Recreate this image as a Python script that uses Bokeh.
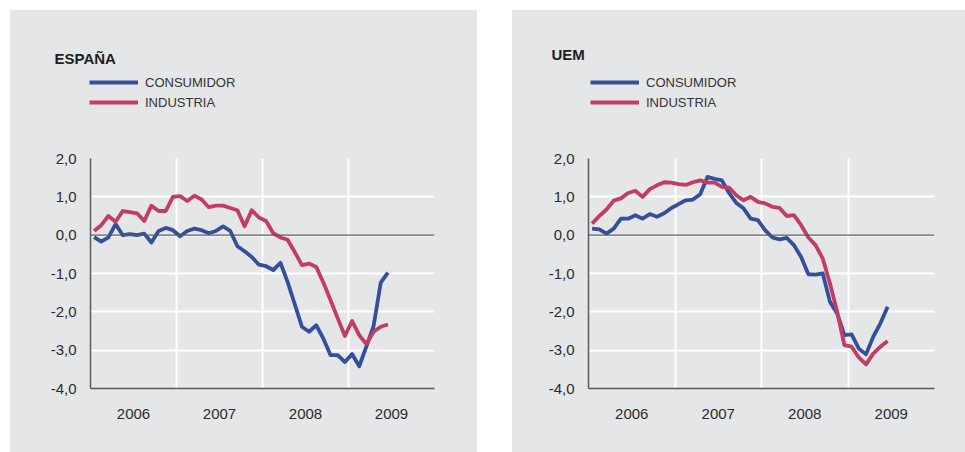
from bokeh.plotting import figure
from bokeh.models import (Range1d, FixedTicker, Span, Label, Legend, LegendItem,
                          Spacer, ColumnDataSource, CustomJSTickFormatter)
from bokeh.layouts import row, column
from bokeh.embed import file_html
from bokeh.resources import INLINE

# ---------------- data ----------------
years = [2006, 2007, 2008, 2009]
year_labels = ["2006", "2007", "2008", "2009"]
year_bounds = [2007, 2008, 2009, 2010]
y_ticks = [-4, -3, -2, -1, 0, 1, 2]
y_tick_labels = ["-4,0", "-3,0", "-2,0", "-1,0", "0,0", "1,0", "2,0"]
series_names = ["CONSUMIDOR", "INDUSTRIA"]
panel_titles = ["ESPAÑA", "UEM"]

# monthly, Jan 2006 - Jun 2009
esp_consumidor = [-0.05, -0.17, -0.06, 0.29, 0.0, 0.03, 0.0, 0.04, -0.19, 0.11,
                  0.19, 0.13, -0.03, 0.11, 0.17, 0.13, 0.05, 0.11, 0.23, 0.11,
                  -0.29, -0.42, -0.57, -0.77, -0.81, -0.91, -0.72, -1.22, -1.80, -2.39,
                  -2.52, -2.35, -2.70, -3.13, -3.13, -3.31, -3.10, -3.42, -2.90, -2.37,
                  -1.24, -0.98]
esp_industria = [0.11, 0.26, 0.50, 0.35, 0.63, 0.60, 0.57, 0.37, 0.77, 0.63,
                 0.63, 1.00, 1.02, 0.89, 1.03, 0.93, 0.73, 0.77, 0.77, 0.71,
                 0.65, 0.23, 0.65, 0.46, 0.37, 0.05, -0.06, -0.12, -0.44, -0.78,
                 -0.74, -0.83, -1.24, -1.70, -2.17, -2.63, -2.24, -2.61, -2.84, -2.52,
                 -2.39, -2.33]
uem_consumidor = [0.17, 0.15, 0.04, 0.17, 0.43, 0.43, 0.52, 0.43, 0.55, 0.48,
                  0.57, 0.71, 0.81, 0.91, 0.93, 1.07, 1.52, 1.47, 1.43, 1.10,
                  0.84, 0.70, 0.43, 0.39, 0.13, -0.06, -0.11, -0.07, -0.26, -0.57,
                  -1.02, -1.03, -1.00, -1.74, -2.04, -2.61, -2.59, -2.96, -3.11, -2.65,
                  -2.30, -1.87]
uem_industria = [0.30, 0.50, 0.67, 0.90, 0.96, 1.10, 1.16, 1.00, 1.20, 1.30,
                 1.38, 1.37, 1.33, 1.31, 1.38, 1.43, 1.37, 1.37, 1.26, 1.24,
                 1.04, 0.91, 1.00, 0.87, 0.83, 0.74, 0.71, 0.50, 0.52, 0.26,
                 -0.06, -0.26, -0.61, -1.26, -2.00, -2.87, -2.91, -3.19, -3.37, -3.09,
                 -2.91, -2.76]

# ---------------- style ----------------
BG = "#e5e6e8"
BLUE = "#35509b"
RED = "#c33c64"
AXIS = "#5a5a5a"
TXT = "#2b2b2b"
FONT = "Liberation Sans"
HEAD_H = 130
CHART_H = 312
LW = 3.8
NAN = float("nan")


def make_header(title, width, title_xy, legend_xy):
    # header area: its frame covers the whole header, ranges are in pixels
    h = figure(width=width, height=HEAD_H, title=None,
               x_range=Range1d(0, width), y_range=Range1d(0, HEAD_H),
               x_axis_type=None, y_axis_type=None,
               output_backend="svg", toolbar_location=None,
               min_border=0, min_border_left=0, min_border_right=0,
               min_border_top=0, min_border_bottom=0,
               background_fill_color=BG, border_fill_color=BG,
               outline_line_color=None)
    h.frame_align = False
    h.grid.visible = False
    h.add_layout(Label(x=title_xy[0], y=title_xy[1], text=title, text_font=FONT,
                       text_font_size="15px", text_font_style="bold",
                       text_color="#1e1e1e", text_baseline="alphabetic"))
    # legend keys: renderers with no visible points, carrying the line styles
    k1 = h.line(x=[NAN], y=[NAN], line_color=BLUE, line_width=LW)
    k2 = h.line(x=[NAN], y=[NAN], line_color=RED, line_width=LW)
    leg = Legend(items=[LegendItem(label=series_names[0], renderers=[k1]),
                        LegendItem(label=series_names[1], renderers=[k2])],
                 location=legend_xy, orientation="vertical",
                 glyph_width=49, glyph_height=20, label_height=20,
                 label_standoff=7, spacing=0, padding=0, margin=0,
                 border_line_color=None, background_fill_alpha=0,
                 label_text_font=FONT, label_text_font_size="13px",
                 label_text_color="#333333")
    h.add_layout(leg)
    return h


def make_chart(cons, ind, width, b_left, b_right):
    x = [years[0] + (i + 0.5) / 12 for i in range(len(cons))]
    src = ColumnDataSource(dict(x=x, cons=cons, ind=ind))
    p = figure(width=width, height=CHART_H, title=None,
               x_range=Range1d(years[0], year_bounds[-1]),
               y_range=Range1d(y_ticks[0], y_ticks[-1]),
               output_backend="svg", toolbar_location=None,
               min_border_left=b_left, min_border_right=b_right,
               min_border_top=18, min_border_bottom=64,
               background_fill_color=BG, border_fill_color=BG,
               outline_line_color=None)
    p.frame_align = False

    p.xgrid.ticker = FixedTicker(ticks=year_bounds)
    p.ygrid.ticker = FixedTicker(ticks=y_ticks[1:])
    for g in (p.xgrid[0], p.ygrid[0]):
        g.grid_line_color = "white"
        g.grid_line_width = 2

    p.xaxis.ticker = FixedTicker(ticks=[y + 0.5 for y in years])
    p.xaxis.major_label_overrides = {y + 0.5: lab for y, lab in zip(years, year_labels)}
    p.yaxis.ticker = FixedTicker(ticks=y_ticks)
    p.yaxis.formatter = CustomJSTickFormatter(
        args=dict(tick_vals=y_ticks, tick_labs=y_tick_labels),
        code="""
        for (let k = 0; k < tick_vals.length; k++) {
            if (Math.abs(tick_vals[k] - tick) < 1e-9) { return tick_labs[k]; }
        }
        return '';
        """)
    for ax in (p.xaxis[0], p.yaxis[0]):
        ax.axis_line_color = AXIS
        ax.axis_line_width = 1.5
        ax.major_tick_line_color = None
        ax.minor_tick_line_color = None
        ax.major_label_text_font = FONT
        ax.major_label_text_font_size = "15px"
        ax.major_label_text_color = TXT
    p.xaxis.major_label_standoff = 14
    p.yaxis.major_label_standoff = 8

    p.add_layout(Span(location=0, dimension="width", line_color=AXIS, line_width=1.3))

    p.line("x", "cons", source=src, line_color=BLUE, line_width=LW, line_join="round")
    p.line("x", "ind", source=src, line_color=RED, line_width=LW, line_join="round")
    return p


W1, W2 = 467, 453
left_panel = column(make_header(panel_titles[0], W1, (44, 82), (79, 28)),
                    make_chart(esp_consumidor, esp_industria, W1, 80, 43),
                    styles={"background-color": BG})
right_panel = column(make_header(panel_titles[1], W2, (39, 86), (78, 28)),
                     make_chart(uem_consumidor, uem_industria, W2, 76, 31),
                     styles={"background-color": BG})

layout = column(Spacer(height=10),
                row(Spacer(width=10), left_panel, Spacer(width=35), right_panel))

open("out.html", "w").write(file_html(layout, INLINE))
